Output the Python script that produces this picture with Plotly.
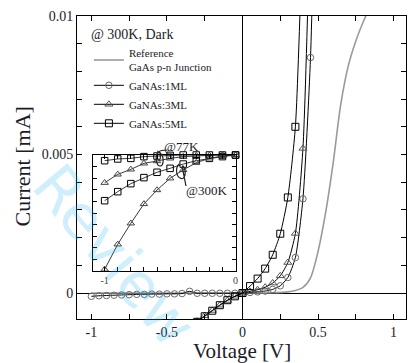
import plotly.graph_objects as go

# ---------------- data ----------------
v_ref = [-1.0, -0.5, 0.0, 0.2, 0.3, 0.35, 0.40, 0.45, 0.50, 0.55, 0.60, 0.65, 0.70, 0.75, 0.80, 0.85]
i_ref = [0.0, 0.0, 0.0, 0.00001, 0.00004, 0.00009, 0.0002, 0.00055, 0.0015, 0.0029, 0.0047, 0.0068, 0.0082, 0.0091, 0.0098, 0.0104]

v_1ml = [-1.00, -0.95, -0.90, -0.85, -0.80, -0.75, -0.70, -0.65, -0.60, -0.55, -0.50, -0.45, -0.40,
         -0.35, -0.30, -0.25, -0.20, -0.15, -0.10, -0.05, 0.00, 0.05, 0.10, 0.15, 0.20, 0.25, 0.30,
         0.35, 0.40, 0.45, 0.50]
i_1ml = [-0.00012, -0.00010, -0.00009, -0.00008, -0.00007, -0.00006, -0.00005, -0.00005, -0.00004,
         -0.00004, -0.00003, -0.00003, -0.00002, 0.00006, -0.00001, -0.00001, -0.00001, -0.00001,
         -0.00001, -0.00001, 0.0, 0.00002, 0.00004, 0.00007, 0.00013, 0.00026, 0.00056, 0.00128,
         0.00340, 0.00850, 0.0200]

v_3ml = [-0.30, -0.25, -0.20, -0.15, -0.10, -0.05, 0.00, 0.05, 0.10, 0.15, 0.20, 0.25, 0.30, 0.35, 0.40, 0.45]
i_3ml = [-0.00102, -0.00082, -0.00063, -0.00044, -0.00027, -0.00012, 0.0, 0.00006, 0.00012, 0.00021,
         0.00036, 0.00062, 0.00110, 0.00215, 0.00522, 0.0140]

v_5ml = [-0.30, -0.25, -0.20, -0.15, -0.10, -0.05, 0.00, 0.05, 0.10, 0.15, 0.20, 0.25, 0.30, 0.35, 0.40]
i_5ml = [-0.00104, -0.00084, -0.00064, -0.00044, -0.00026, -0.00012, 0.0, 0.00025, 0.00052, 0.00088,
         0.00138, 0.00214, 0.00345, 0.00600, 0.0135]

# inset (normalised current vs voltage)
v_inset = [-1.0, -0.9, -0.8, -0.7, -0.6, -0.5, -0.4, -0.3, -0.2, -0.1, 0.0]
sq_77k = [0.951, 0.966, 0.971, 0.986, 0.991, 0.997, 1.0, 1.0, 1.0, 1.0, 1.0]
tri_77k = [0.761, 0.833, 0.876, 0.928, 0.948, 0.971, 0.986, 0.994, 0.997, 1.0, 1.0]
sq_300k = [0.606, 0.684, 0.753, 0.805, 0.851, 0.885, 0.922, 0.951, 0.971, 0.986, 1.0]
tri_300k = [0.014, 0.230, 0.411, 0.578, 0.698, 0.799, 0.871, 0.934, 0.971, 0.991, 1.0]

legend_names = ["Reference<br>GaAs p-n Junction", "GaNAs:1ML", "GaNAs:3ML", "GaNAs:5ML"]
x_ticklabels = ["-1", "-0.5", "0", "0.5", "1"]
y_ticklabels = ["0", "0.005", "0.01"]

# ---------------- layout geometry ----------------
W, H = 409, 363
L, R, T, B = 77, 0, 16, 44
PW, PH = W - L - R, H - T - B
FONT = "Liberation Serif, Times New Roman, serif"
TXT = "#1c1c28"


def px(xp):
    return (xp - L) / PW


def py(yp):
    return (H - B - yp) / PH


fig = go.Figure()

fig.add_trace(go.Scatter(x=v_ref, y=i_ref, mode="lines", name=legend_names[0],
                         line=dict(color="#9a9a9a", width=1.6, shape="spline", smoothing=0.8),
                         legendgroup="a"))
fig.add_trace(go.Scatter(x=v_1ml, y=i_1ml, mode="lines+markers", name=legend_names[1],
                         line=dict(color="black", width=1, shape="spline", smoothing=0.6),
                         marker=dict(symbol="circle-open", size=6.5, color="#6a6a6a", line=dict(width=1)),
                         legendgroup="b"))
fig.add_trace(go.Scatter(x=v_3ml, y=i_3ml, mode="lines+markers", name=legend_names[2],
                         line=dict(color="black", width=1, shape="spline", smoothing=0.6),
                         marker=dict(symbol="triangle-up-open", size=7, color="#555555", line=dict(width=1)),
                         legendgroup="c"))
fig.add_trace(go.Scatter(x=v_5ml, y=i_5ml, mode="lines+markers", name=legend_names[3],
                         line=dict(color="black", width=1, shape="spline", smoothing=0.6),
                         marker=dict(symbol="square-open", size=7, color="black", line=dict(width=1)),
                         legendgroup="d"))

# inset traces
for ys, sym, col in [(sq_77k, "square-open", "black"), (tri_77k, "triangle-up-open", "#444"),
                     (sq_300k, "square-open", "black"), (tri_300k, "triangle-up-open", "#444")]:
    fig.add_trace(go.Scatter(x=v_inset, y=ys, mode="lines+markers", xaxis="x2", yaxis="y2",
                             showlegend=False, cliponaxis=False,
                             line=dict(color="#222", width=0.9),
                             marker=dict(symbol=sym, size=6.5, color=col, line=dict(width=1))))

x_range = [(L - 244) / 152.5, (W - R - 244) / 152.5]
y_range = [-(H - B - 293) / 27.7 * 0.001, 0.01]

axis_common = dict(showline=True, linecolor="black", linewidth=1, mirror="ticks",
                   ticks="inside", ticklen=5, tickcolor="black", tickwidth=1,
                   showgrid=False, tickfont=dict(family=FONT, size=14, color=TXT))

fig.update_layout(
    width=W, height=H,
    margin=dict(l=L, r=R, t=T, b=B),
    paper_bgcolor="white", plot_bgcolor="white",
    font=dict(family=FONT, color=TXT),
    showlegend=True,
    xaxis=dict(range=x_range, tickvals=[-1, -0.5, 0, 0.5, 1], ticktext=x_ticklabels,
               minor=dict(dtick=0.25, tick0=0, ticks="inside", ticklen=5, tickcolor="black"),
               zeroline=True, zerolinecolor="black", zerolinewidth=1, **axis_common),
    yaxis=dict(range=y_range, tickvals=[0, 0.005, 0.01], ticktext=y_ticklabels,
               minor=dict(dtick=0.001, tick0=0, ticks="inside", ticklen=5, tickcolor="black"),
               zeroline=True, zerolinecolor="black", zerolinewidth=1, **axis_common),
    xaxis2=dict(domain=[px(93), px(237)], anchor="y2", range=[-1.09, 0.0],
                tickvals=[-1, -0.9, -0.8, -0.7, -0.6, -0.5, -0.4, -0.3, -0.2, -0.1, 0],
                ticktext=["-1", "", "", "", "", "", "", "", "", "", "0"],
                showline=True, linecolor="black", linewidth=1, mirror="ticks",
                ticks="inside", ticklen=4, tickcolor="black", showgrid=False, zeroline=False,
                tickfont=dict(family=FONT, size=10, color="#444")),
    yaxis2=dict(domain=[py(271), py(155)], anchor="x2", range=[0, 1.0],
                dtick=0.1, showticklabels=False,
                showline=True, linecolor="black", linewidth=1, mirror="ticks",
                ticks="inside", ticklen=4, tickcolor="black", showgrid=False, zeroline=False),
    legend=dict(x=px(89), y=py(21), xanchor="left", yanchor="top",
                bgcolor="rgba(0,0,0,0)", borderwidth=0,
                title=dict(text="@ 300K, Dark", font=dict(family=FONT, size=14, color=TXT)),
                font=dict(family=FONT, size=11, color=TXT),
                tracegroupgap=0, itemwidth=30),
)

# axis titles
fig.add_annotation(text="Voltage [V]", x=px(243), y=py(351), xref="paper", yref="paper",
                   showarrow=False, font=dict(family=FONT, size=21, color=TXT),
                   xanchor="center", yanchor="middle")
fig.add_annotation(text="Current [mA]", x=px(21), y=py(167), xref="paper", yref="paper",
                   showarrow=False, textangle=-90, font=dict(family=FONT, size=22, color=TXT),
                   xanchor="center", yanchor="middle")

# inset labels
fig.add_annotation(text="@77K", x=px(182), y=py(146), xref="paper", yref="paper", showarrow=False,
                   font=dict(family=FONT, size=13, color=TXT), xanchor="center", yanchor="middle")
fig.add_annotation(text="@300K", x=px(208), y=py(190), xref="paper", yref="paper", showarrow=False,
                   font=dict(family=FONT, size=13, color=TXT), xanchor="center", yanchor="middle")


# loops (decorations) in pixel space converted to paper coords
def path_px(points):
    s = ""
    for cmd, pts in points:
        s += cmd + " " + " ".join(f"{px(a):.4f},{py(b):.4f}" for a, b in pts) + " "
    return s.strip()


loop77 = [("M", [(168, 150)]), ("C", [(160, 150), (156, 152), (157, 160)]),
          ("C", [(158, 168), (164, 168), (164, 160)]), ("C", [(164, 154), (160, 152), (158, 151)])]
loop300 = [("M", [(180, 164)]), ("C", [(176, 168), (177, 176), (181, 178)]),
           ("C", [(186, 181), (188, 172), (184, 166)]), ("C", [(182, 164), (186, 180), (187, 186)])]
for lp in (loop77, loop300):
    fig.add_shape(type="path", path=path_px(lp), xref="paper", yref="paper",
                  line=dict(color="#222", width=1.2))

# watermark
fig.add_annotation(text="Review", x=px(115), y=py(255), xref="paper", yref="paper", showarrow=False,
                   textangle=50, font=dict(family="DejaVu Sans", size=60, color="rgba(40,180,240,0.22)"),
                   xanchor="center", yanchor="middle")

fig.write_html("out.html")
